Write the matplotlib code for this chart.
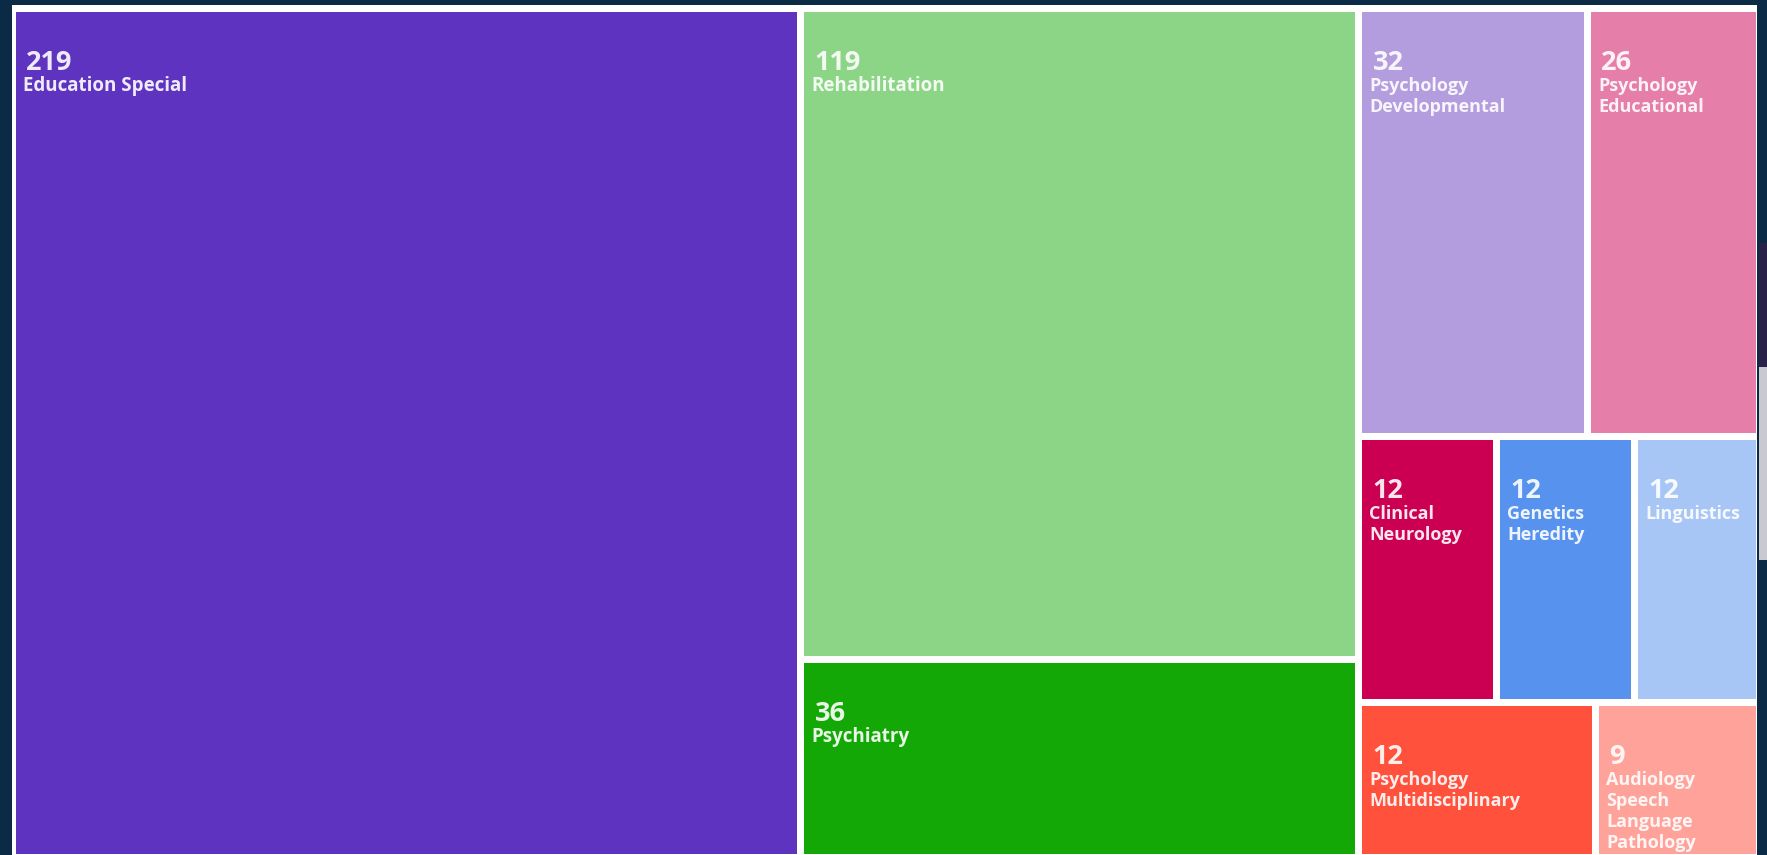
import matplotlib.pyplot as plt
from matplotlib.patches import Rectangle

# treemap data (Web of Science categories)
categories = ["Education Special", "Rehabilitation", "Psychiatry",
              "Psychology\nDevelopmental", "Psychology\nEducational",
              "Clinical\nNeurology", "Genetics\nHeredity", "Linguistics",
              "Psychology\nMultidisciplinary",
              "Audiology\nSpeech\nLanguage\nPathology"]
counts = [219, 119, 36, 32, 26, 12, 12, 12, 12, 9]
colors = ["#5E33BF", "#8CD586", "#14A806", "#B39DDE", "#E57EA8",
          "#CC0052", "#5793EE", "#A8C6F5", "#FF513B", "#FFA39A"]
label_sizes = [13.5, 13.5, 13.5, 13, 13, 13, 13, 13, 13, 13]

BG = "#0A2A46"
W, H = 1767, 855
PHI = (1 + 5 ** 0.5) / 2
FONT = "Open Sans"


def squarify(values, x0, y0, x1, y1, ratio=PHI):
    """d3 style squarified treemap, returns (x0, y0, x1, y1) for each value"""
    rects = []
    n = len(values)
    total = float(sum(values))
    i0 = 0
    while i0 < n:
        dx, dy = x1 - x0, y1 - y0
        s = values[i0]
        lo = hi = s
        alpha = max(dy / dx, dx / dy) / (total * ratio)
        beta = s * s * alpha
        best = max(hi / beta, beta / lo)
        i1 = i0 + 1
        while i1 < n:
            v = values[i1]
            beta = (s + v) ** 2 * alpha
            r = max(max(hi, v) / beta, beta / min(lo, v))
            if r > best:
                break
            s += v
            best = r
            lo, hi = min(lo, v), max(hi, v)
            i1 += 1
        row = values[i0:i1]
        if dx < dy:
            yb = y0 + dy * s / total
            xx = x0
            for v in row:
                w = dx * v / s
                rects.append((xx, y0, xx + w, yb))
                xx += w
            y0 = yb
        else:
            xb = x0 + dx * s / total
            yy = y0
            for v in row:
                h = dy * v / s
                rects.append((x0, yy, xb, yy + h))
                yy += h
            x0 = xb
        total -= s
        i0 = i1
    return rects


fig = plt.figure(figsize=(W / 100, H / 100), dpi=100, facecolor=BG)
ax = fig.add_axes([0, 0, 1, 1])
ax.set_xlim(0, W)
ax.set_ylim(H, 0)
ax.axis("off")

# white card behind the treemap
ax.add_patch(Rectangle((12, 5), 1745, 860, facecolor="white", edgecolor="none"))
clip = Rectangle((12, 5), 1743.5, 860, transform=ax.transData)

# bit of a neighbouring picture peeking in on the right
ax.add_patch(Rectangle((1759, 243), 10, 124, facecolor="#2A2148", edgecolor="none"))
ax.add_patch(Rectangle((1759, 367), 10, 193, facecolor="#C9C9D2", edgecolor="none"))

pad = 3.5
rects = squarify(counts, 12.5, 8.5, 1773, 857)
for (x0, y0, x1, y1), name, n, col, fs in zip(rects, categories, counts, colors, label_sizes):
    x0, y0, x1, y1 = x0 + pad, y0 + pad, x1 - pad, y1 - pad
    p = Rectangle((x0, y0), x1 - x0, y1 - y0, facecolor=col, edgecolor="none")
    ax.add_patch(p)
    p.set_clip_path(clip)

    ax.text(x0 + 10, y0 + 58, str(n), color="white", alpha=0.9,
            fontsize=19.5, fontweight="bold", family=FONT, va="baseline")
    step = 21 if n < 100 else 19
    base = y0 + 79
    for i, line in enumerate(name.split("\n")):
        t = ax.text(x0 + 7, base + i * step, line, color="white", alpha=0.9,
                    fontsize=fs, fontweight="bold", family=FONT, va="baseline")
        t.set_clip_on(True)

fig.savefig("out.png", dpi=100, facecolor=BG)
